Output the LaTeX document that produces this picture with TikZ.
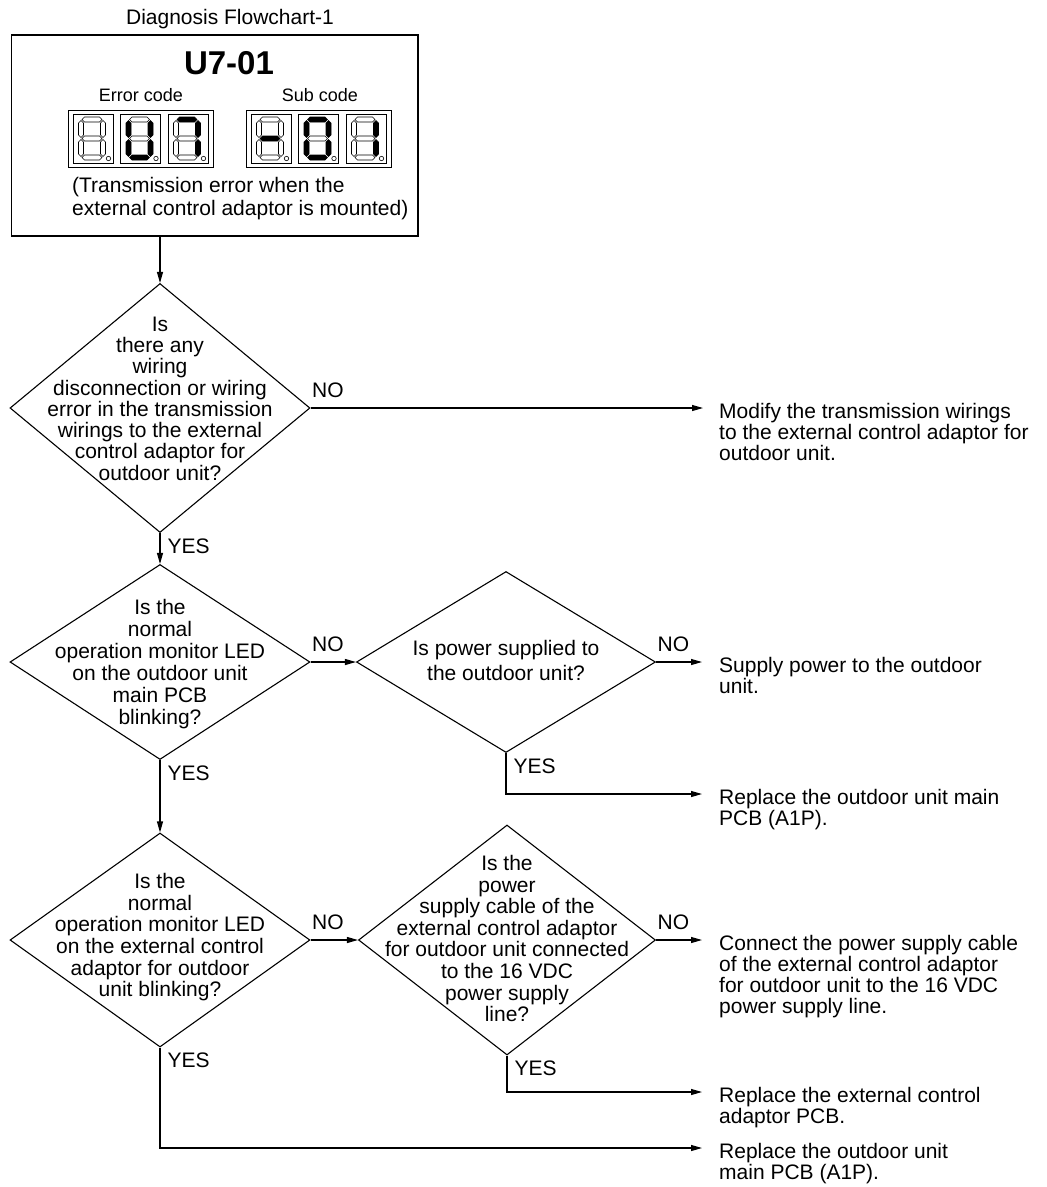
\documentclass[tikz,border=0pt]{standalone}
\usepackage{fontspec}
\setmainfont{Liberation Sans}
\usepackage{tikz}
\usetikzlibrary{shapes.geometric,arrows.meta,positioning,calc}
\tikzset{
  decision/.style={diamond, draw, line width=1.1pt, inner sep=0pt, font=\fontsize{21}{21}\selectfont},
  codebox/.style={rectangle, draw, line width=1.1pt, minimum width=406.5pt, minimum height=201pt, inner sep=0pt},
  arrow/.style={-{Triangle[length=11pt,width=6pt]}, line width=1.1pt},
  action/.style={anchor=north west, align=left, inner sep=0pt, font=\fontsize{21}{21}\selectfont},
  nolbl/.style={anchor=south west, inner xsep=1pt, inner ysep=10pt, font=\fontsize{21}{21}\selectfont},
  yeslbl/.style={anchor=north west, inner xsep=7pt, inner ysep=5pt, font=\fontsize{21}{21}\selectfont},
  cell/.style={draw, line width=0.8pt},
  seg0/.style={draw, fill=white, line width=0.6pt},
  seg1/.style={draw, fill=black, line width=0.6pt},
}
% text of a decision, kept out of the diamond size
\newcommand{\qbox}[2][0pt]{\makebox[0pt]{\raisebox{#1}[0pt][0pt]{\begin{tabular}{@{}c@{}}#2\end{tabular}}}}
% segments: style, from, to, position
\newcommand{\hseg}[4]{\path[#1] (#2,#4) -- ({#2+2.5},{#4-2.5}) -- ({#3-2.5},{#4-2.5}) -- (#3,#4) -- ({#3-2.5},{#4+2.5}) -- ({#2+2.5},{#4+2.5}) -- cycle;}
\newcommand{\vseg}[4]{\path[#1] (#4,#2) -- ({#4+2.5},{#2+2.5}) -- ({#4+2.5},{#3-2.5}) -- (#4,#3) -- ({#4-2.5},{#3-2.5}) -- ({#4-2.5},{#2+2.5}) -- cycle;}
% one display cell: top left corner, then segments a-g (1 = lit)
\newcommand{\digitcell}[9]{%
  \begin{scope}[shift={(#1,#2)}]
    \draw[cell] (0,0) rectangle (40,49);
    \begin{scope}[shift={(8,5.5)}]
      \hseg{seg#3}{1}{21}{0}
      \vseg{seg#4}{1}{18}{22}
      \vseg{seg#5}{20}{37}{22}
      \hseg{seg#6}{1}{21}{38}
      \vseg{seg#7}{20}{37}{0}
      \vseg{seg#8}{1}{18}{0}
      \hseg{seg#9}{1}{21}{19}
    \end{scope}
    \draw[line width=0.6pt] (35.5,44.5) circle (2.2);
  \end{scope}}

\begin{document}
\begin{tikzpicture}[x=1pt, y=-1pt]
  \useasboundingbox (0,0) rectangle (1047,1187);

  % Error code box
  \node[anchor=base, font=\fontsize{21}{21}\selectfont] (title) at (230,24.5) {Diagnosis Flowchart-1};
  \node[codebox] (code) at (214.75,135.5) {};
  \node[anchor=base, font=\fontsize{33}{33}\selectfont\bfseries] (codeid) at (229,74.8) {U7-01};
  \node[anchor=base, font=\fontsize{18}{18}\selectfont] (errlbl) at (141,101.5) {Error code};
  \node[anchor=base, font=\fontsize{18}{18}\selectfont] (sublbl) at (320,101.5) {Sub code};
  \node[anchor=north west, align=left, inner sep=0pt, font=\fontsize{21}{23}\selectfont] (note) at (72,177) {(Transmission error when the\\external control adaptor is mounted)};

  % Displays
  \draw[cell] (68,110) rectangle (213,167);
  \draw[cell] (246,110) rectangle (391,167);
  \digitcell{73}{114}{0}{0}{0}{0}{0}{0}{0}
  \digitcell{120.5}{114}{0}{1}{1}{1}{1}{1}{0}
  \digitcell{168}{114}{1}{1}{1}{0}{0}{0}{0}
  \digitcell{251}{114}{0}{0}{0}{0}{0}{0}{1}
  \digitcell{298.5}{114}{1}{1}{1}{1}{1}{1}{0}
  \digitcell{346}{114}{0}{1}{1}{0}{0}{0}{0}

  % Decisions
  \node[decision, minimum width=300pt, minimum height=249pt, font=\fontsize{21}{20}\selectfont] (q1) at (160,408)
    {\qbox[1.25pt]{Is\\there any\\wiring\\disconnection or wiring\\error in the transmission\\wirings to the external\\control adaptor for\\outdoor unit?}};
  \node[decision, minimum width=300pt, minimum height=195pt, font=\fontsize{21}{22}\selectfont] (q2) at (160,662)
    {\qbox[-8pt]{Is the\\normal\\operation monitor LED\\on the outdoor unit\\main PCB\\blinking?}};
  \node[decision, minimum width=299pt, minimum height=181pt, font=\fontsize{21}{25}\selectfont] (q3) at (506,662)
    {\qbox[-6pt]{Is power supplied to\\the outdoor unit?}};
  \node[decision, minimum width=300pt, minimum height=214pt, font=\fontsize{21}{21.2}\selectfont] (q4) at (160,940)
    {\qbox[-3.5pt]{Is the\\normal\\operation monitor LED\\on the external control\\adaptor for outdoor\\unit blinking?}};
  \node[decision, minimum width=297pt, minimum height=230pt, font=\fontsize{21}{21.3}\selectfont] (q5) at (507,940)
    {\qbox[-7pt]{Is the\\power\\supply cable of the\\external control adaptor\\for outdoor unit connected\\to the 16 VDC\\power supply\\line?}};

  % Actions
  \coordinate (a1) at (703,408);
  \coordinate (a2) at (702,662);
  \coordinate (a3) at (702,794);
  \coordinate (a4) at (702,940);
  \coordinate (a5) at (702,1092);
  \coordinate (a6) at (702,1148);
  \node[action] (t1) at ([xshift=16pt,yshift=5pt]a1) {Modify the transmission wirings\\to the external control adaptor for\\outdoor unit.};
  \node[action] (t2) at ([xshift=17pt,yshift=5pt]a2) {Supply power to the outdoor\\unit.};
  \node[action] (t3) at ([xshift=17pt,yshift=5pt]a3) {Replace the outdoor unit main\\PCB (A1P).};
  \node[action] (t4) at ([xshift=17pt,yshift=5pt]a4) {Connect the power supply cable\\of the external control adaptor\\for outdoor unit to the 16 VDC\\power supply line.};
  \node[action] (t5) at ([xshift=17pt,yshift=5pt]a5) {Replace the external control\\adaptor PCB.};
  \node[action] (t6) at ([xshift=17pt,yshift=5pt]a6) {Replace the outdoor unit\\main PCB (A1P).};

  % Connectors
  \draw[arrow] (code.south -| q1.north) -- (q1.north);
  \draw[arrow] (q1.east) -- node[nolbl, pos=0] (n1) {NO} (a1);
  \draw[arrow] (q1.south) -- node[yeslbl, pos=0] (y1) {YES} (q2.north);
  \draw[arrow] (q2.east) -- node[nolbl, pos=0] (n2) {NO} (q3.west);
  \draw[arrow] (q3.east) -- node[nolbl, pos=0] (n3) {NO} (a2);
  \draw[arrow] (q3.south) |- node[yeslbl, pos=0] (y3) {YES} (a3);
  \draw[arrow] (q2.south) -- node[yeslbl, pos=0] (y2) {YES} (q4.north);
  \draw[arrow] (q4.east) -- node[nolbl, pos=0] (n4) {NO} (q5.west);
  \draw[arrow] (q5.east) -- node[nolbl, pos=0] (n5) {NO} (a4);
  \draw[arrow] (q5.south) |- node[yeslbl, pos=0] (y5) {YES} (a5);
  \draw[arrow] (q4.south) |- node[yeslbl, pos=0] (y4) {YES} (a6);

\end{tikzpicture}
\end{document}
